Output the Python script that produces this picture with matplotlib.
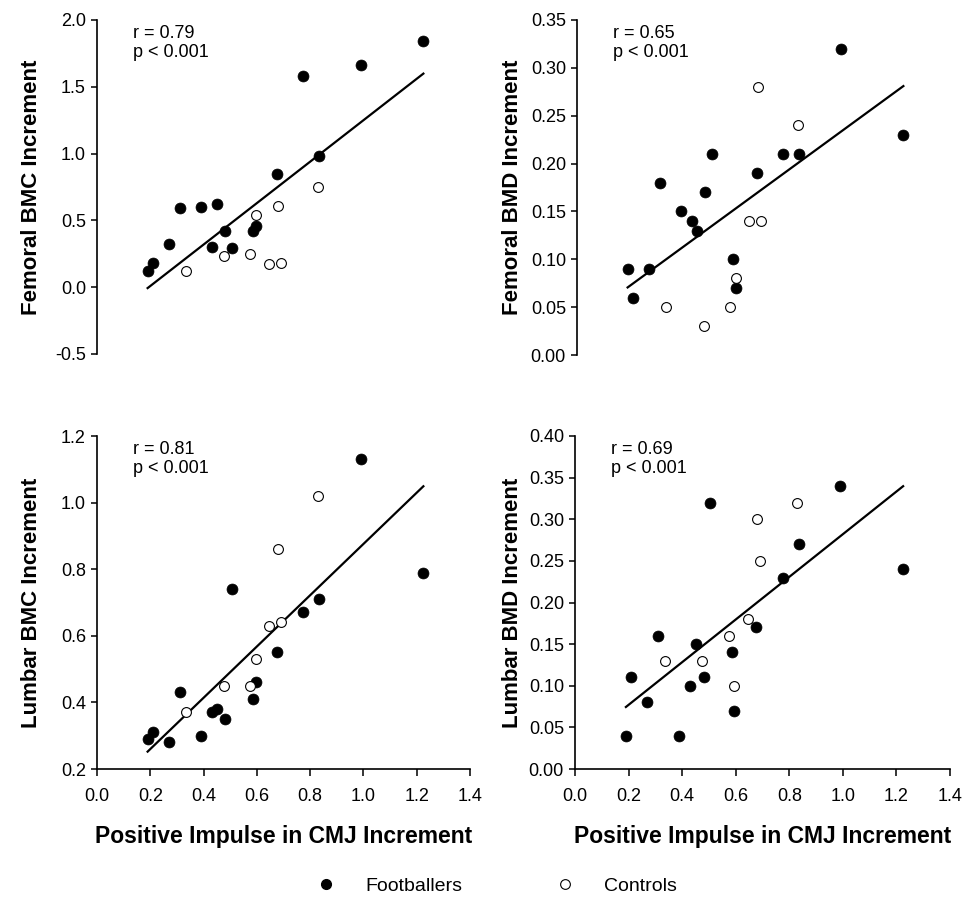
import matplotlib
matplotlib.use("Agg")
import matplotlib.pyplot as plt
import numpy as np
from matplotlib import font_manager
from matplotlib.ticker import FormatStrFormatter
from matplotlib.lines import Line2D

names = {f.name for f in font_manager.fontManager.ttflist}
SANS = "Liberation Sans" if "Liberation Sans" in names else "DejaVu Sans"
NARROW = "Liberation Sans Narrow" if "Liberation Sans Narrow" in names else SANS

plt.rcParams["font.family"] = [SANS, "DejaVu Sans"]
plt.rcParams["axes.unicode_minus"] = False

# positive impulse in CMJ increment (x), shared by all four panels
foot_x = [0.19, 0.21, 0.27, 0.31, 0.39, 0.43, 0.45, 0.48, 0.505, 0.585, 0.595, 0.675, 0.775, 0.835, 0.99, 1.225]
ctrl_x = [0.335, 0.475, 0.575, 0.595, 0.645, 0.68, 0.69, 0.83]

# femoral BMC increment
fem_bmc_foot = [0.12, 0.18, 0.32, 0.59, 0.60, 0.30, 0.62, 0.42, 0.29, 0.42, 0.46, 0.85, 1.58, 0.98, 1.66, 1.84]
fem_bmc_ctrl = [0.12, 0.23, 0.25, 0.54, 0.17, 0.61, 0.18, 0.75]
# femoral BMD increment
fem_bmd_foot = [0.09, 0.06, 0.09, 0.18, 0.15, 0.14, 0.13, 0.17, 0.21, 0.10, 0.07, 0.19, 0.21, 0.21, 0.32, 0.23]
fem_bmd_ctrl = [0.05, 0.03, 0.05, 0.08, 0.14, 0.28, 0.14, 0.24]
# lumbar BMC increment
lum_bmc_foot = [0.29, 0.31, 0.28, 0.43, 0.30, 0.37, 0.38, 0.35, 0.74, 0.41, 0.46, 0.55, 0.67, 0.71, 1.13, 0.79]
lum_bmc_ctrl = [0.37, 0.45, 0.45, 0.53, 0.63, 0.86, 0.64, 1.02]
# lumbar BMD increment
lum_bmd_foot = [0.04, 0.11, 0.08, 0.16, 0.04, 0.10, 0.15, 0.11, 0.32, 0.14, 0.07, 0.17, 0.23, 0.27, 0.34, 0.24]
lum_bmd_ctrl = [0.13, 0.13, 0.16, 0.10, 0.18, 0.30, 0.25, 0.32]

panels = [
    ("Femoral BMC Increment", fem_bmc_foot, fem_bmc_ctrl, "r = 0.79", (-0.5, 2.0), 0.5, "%.1f"),
    ("Femoral BMD Increment", fem_bmd_foot, fem_bmd_ctrl, "r = 0.65", (0.0, 0.35), 0.05, "%.2f"),
    ("Lumbar BMC Increment", lum_bmc_foot, lum_bmc_ctrl, "r = 0.81", (0.2, 1.2), 0.2, "%.1f"),
    ("Lumbar BMD Increment", lum_bmd_foot, lum_bmd_ctrl, "r = 0.69", (0.0, 0.40), 0.05, "%.2f"),
]

W, H = 963, 901
fig = plt.figure(figsize=(W / 100, H / 100), dpi=100)

# axes boxes in pixels: (left, right, top, bottom)
boxes = [(97, 470, 20, 354), (577, 950, 20, 355), (97, 470, 436, 769), (575, 950, 436, 769)]

for i, (ylab, yf, yc, rtxt, ylim, ystep, fmt) in enumerate(panels):
    l, r, t, b = boxes[i]
    ax = fig.add_axes([l / W, 1 - b / H, (r - l) / W, (b - t) / H])
    bottom_row = i >= 2

    xf = np.array(foot_x)
    xc = np.array(ctrl_x)
    ax.scatter(xf, yf, s=62, c="black", edgecolors="black", linewidths=0.5, zorder=3)
    ax.scatter(xc, yc, s=50, facecolors="white", edgecolors="black", linewidths=0.8, zorder=3)

    allx = np.concatenate([xf, xc])
    ally = np.concatenate([yf, yc])
    k, c0 = np.polyfit(allx, ally, 1)
    xx = np.array([allx.min(), allx.max()])
    ax.plot(xx, k * xx + c0, color="black", lw=1.6, zorder=2)

    ax.set_xlim(0, 1.4)
    ax.set_ylim(*ylim)
    ax.set_yticks(np.arange(ylim[0], ylim[1] + ystep / 2, ystep))
    ax.yaxis.set_major_formatter(FormatStrFormatter(fmt))

    for s in ["top", "right"]:
        ax.spines[s].set_visible(False)
    ax.spines["left"].set_linewidth(1.2)
    ax.tick_params(axis="y", direction="out", length=4, width=1.1, pad=4, labelsize=13)

    if bottom_row:
        ax.spines["bottom"].set_linewidth(1.2)
        ax.set_xticks(np.arange(0, 1.41, 0.2))
        ax.xaxis.set_major_formatter(FormatStrFormatter("%.1f"))
        ax.tick_params(axis="x", direction="out", length=5, width=1.1, pad=9, labelsize=13)
        for lab in ax.get_xticklabels():
            lab.set_family([NARROW, SANS])
        fig.text((l + r) / 2 / W, 1 - 836 / H, "Positive Impulse in CMJ Increment",
                 ha="center", va="center", fontsize=16.5, fontweight="bold")
    else:
        ax.spines["bottom"].set_visible(False)
        ax.set_xticks([])

    ax.text(0.097, 0.985, rtxt + "\np < 0.001", transform=ax.transAxes, ha="left", va="top",
            fontsize=13, linespacing=1.15)

    ylx = 32 if i % 2 == 0 else 513
    fig.text(ylx / W, 1 - (t + b) / 2 / H, ylab, rotation=90, ha="center", va="center",
             fontsize=16, fontweight="bold")

# legend along the bottom
handles = [
    Line2D([], [], ls="none", marker="o", ms=7, mfc="black", mec="black"),
    Line2D([], [], ls="none", marker="o", ms=7, mfc="white", mec="black", mew=0.8),
]
fig.legend(handles, ["Footballers", "Controls"], loc="center", bbox_to_anchor=(492 / W, 1 - 886 / H),
           ncol=2, frameon=False, fontsize=14, handletextpad=1.0, columnspacing=4.3)

fig.savefig("out.png", dpi=100)
